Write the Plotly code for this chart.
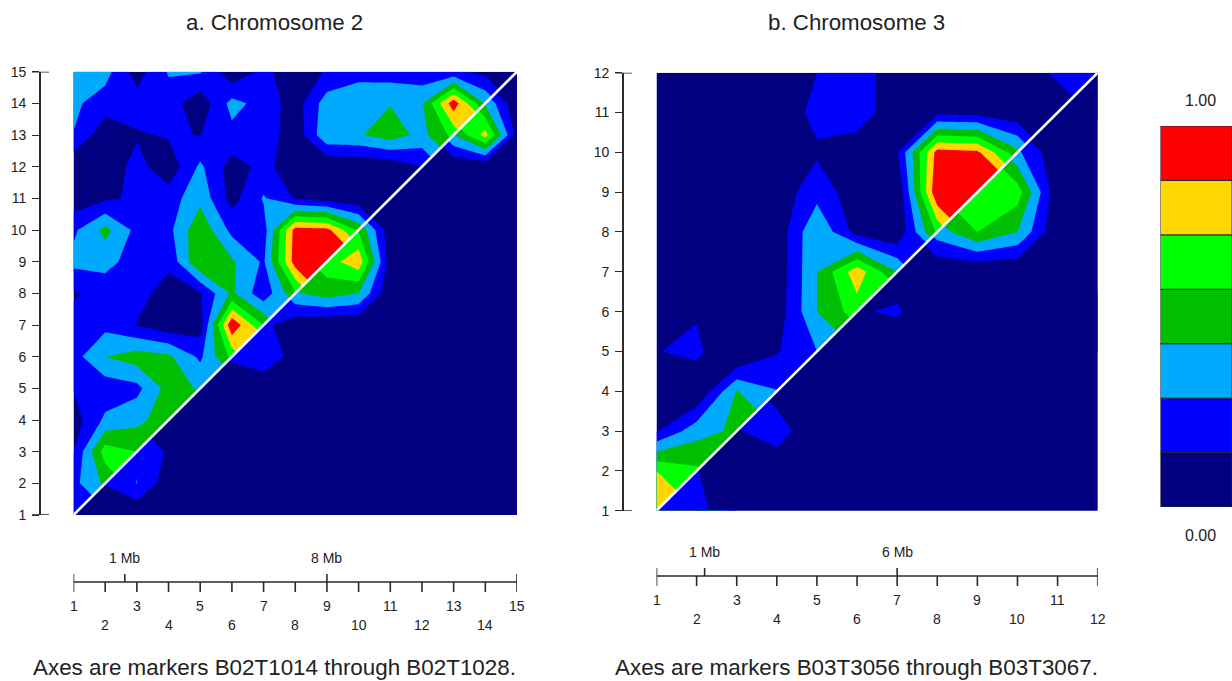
import plotly.graph_objects as go

W, H = 1232, 681
chr2_upper = [
    [1.3],
    [1.7, 3.2],
    [0.95, 4.5, 4.0],
    [0.5, 2.2, 2.7, 3.6],
    [1.05, 1.4, 1.7, 3.4, 2.9],
    [1.6, 3.0, 3.5, 3.2, 1.8, 4.3],
    [1.3, 1.7, 0.95, 0.3, 0.5, 6.8, 4.0],
    [0.9, 1.3, 1.35, 0.6, 0.9, 3.2, 1.3, 3.8],
    [2.3, 2.4, 1.45, 1.2, 4.02, 3.15, 1.85, 6.5, 6.6],
    [1.8, 3.3, 1.7, 1.7, 3.8, 1.7, 1.5, 6.4, 6.3, 3.8],
    [0.4, 0.8, 1.2, 1.5, 2.7, 0.6, 2.1, 0.9, 0.5, 0.2, 0.1],
    [0.1, 0.2, 1.4, 0.3, 2.2, 0.55, 1.3, 0.4, 0.1, 0.1, 0.3, 1.0],
    [1.97, 0.3, 0.88, 1.1, 0.97, 1.7, 1.7, 0.3, 2.8, 2.9, 3.5, 2.7, 4.3],
    [2.2, 1.5, 1.5, 1.5, 0.3, 2.35, 1.6, 0.5, 2.5, 2.6, 2.95, 2.9, 6.6, 2.9],
    [2.6, 2.4, 0.5, 2.1, 2.1, 0.2, 1.3, 0.3, 1.1, 1.7, 1.5, 1.3, 1.2, 0.7, 0.3],
]
chr2_lower = [
    [0.3, 0.2, 0.1, 0.1, 0.1, 0.1, 0.1, 0.1, 0.1, 0.1, 0.1, 0.1, 0.1, 0.1, 0.1],
    [1.05, 2.02, 0.4, 0.1, 0.1, 0.1, 0.1, 0.1, 0.1, 0.1, 0.1, 0.1, 0.1, 0.1],
    [1.9, 0.85, 0.1, 0.1, 0.1, 0.1, 0.1, 0.1, 0.1, 0.1, 0.1, 0.1, 0.1],
    [0.2, 0.1, 0.1, 0.1, 0.1, 0.1, 0.1, 0.1, 0.1, 0.1, 0.1, 0.1],
    [0.1, 0.1, 0.2, 0.1, 0.1, 0.1, 0.1, 0.1, 0.1, 0.1, 0.1],
    [1.2, 1.7, 0.6, 0.1, 0.1, 0.1, 0.1, 0.1, 0.1, 0.1],
    [1.3, 0.3, 0.1, 0.1, 0.1, 0.1, 0.1, 0.1, 0.1],
    [2.9, 3.5, 3.0, 0.2, 0.1, 0.1, 0.1, 0.1],
    [4.5, 5.7, 0.4, 0.1, 0.1, 0.1, 0.1],
    [3.9, 0.3, 0.1, 0.1, 0.1, 0.1],
    [0.1, 0.1, 0.1, 0.1, 0.1],
    [0.3, 0.1, 0.1, 0.1],
    [3.0, 5.4, 0.6],
    [2.9, 0.1],
    [0.5],
]
chr3_upper = [
    [5.7],
    [5.0, 4.2],
    [0.9, 2.6, 3.2],
    [0.1, 0.0, 3.05, 2.05],
    [0.95, 1.3, -0.4, 0.9, 2.0],
    [0.2, 0.87, 0.1, 0.4, 3.0, 4.5],
    [0.1, 0.1, 0.1, 0.3, 3.0, 5.6, 3.0],
    [0.1, 0.1, 0.1, 0.3, 2.95, 0.6, 0.1, 4.2],
    [0.1, 0.1, 0.1, 0.4, 1.6, 0.4, 0.0, 6.9, 6.8],
    [0.1, 0.1, 0.1, 0.1, 0.85, 0.35, 0.9, 6.4, 6.2, 3.3],
    [0.1, 0.1, 0.1, 0.3, 1.3, 1.6, 0.3, 0.7, 0.6, 0.2, 0.3],
    [0.1, 0.1, 0.1, 0.1, 1.0, 1.4, 0.55, 0.2, 0.2, 0.3, 1.2, 1.4],
]
chr3_lower = [
    [1.1, 1.4, 0.1, 0.1, 0.1, 0.1, 0.1, 0.1, 0.1, 0.1, 0.1, 0.1],
    [1.05, 0.1, 0.1, 0.1, 0.1, 0.1, 0.1, 0.1, 0.1, 0.1, 0.1],
    [0.9, 1.6, 0.0, 0.1, 0.1, 0.1, 0.1, 0.1, 0.1, 0.1],
    [0.5, 0.1, 0.1, 0.1, 0.1, 0.1, 0.1, 0.1, 0.1],
    [0.1, 0.1, 0.1, 0.1, 0.1, 0.1, 0.1, 0.1],
    [0.9, 1.15, 0.1, 0.1, 0.1, 0.1, 0.1],
    [0.4, 0.1, 0.0, 0.0, 0.1, 0.1],
    [2.5, 4.0, 3.0, 0.1, 0.1],
    [4.6, 4.5, 0.2, 0.1],
    [2.2, 0.2, 0.1],
    [0.2, 0.1],
    [0.3],
]
band_colors = ["#000080", "#0000FF", "#00AAFF", "#00BE00", "#00FF00", "#FFD700", "#FF0000"]
band_edges = [0, 1, 2, 3, 4, 5, 6, 7]
titles = ["a. Chromosome 2", "b. Chromosome 3"]
captions = ["Axes are markers B02T1014 through B02T1028.", "Axes are markers B03T3056 through B03T3067."]
mb_marks = [[(2.62, "1 Mb"), (9, "8 Mb")], [(2.2, "1 Mb"), (7, "6 Mb")]]
legend_labels = ["1.00", "0.00"]

FONT = "Liberation Sans"
INK = "#2a2a2a"


def full_from_upper(rows):
    n = len(rows)
    return [[(rows[j][i] if i <= j else rows[i][j]) / 7 for i in range(n)] for j in range(n)]


def full_from_lower(rows):
    n = len(rows)
    return [[(rows[j][i - j] if i >= j else rows[i][j - i]) / 7 for i in range(n)] for j in range(n)]


scale = []
for k, c in enumerate(band_colors):
    scale += [[k / 7, c], [(k + 1) / 7, c]]

fx = lambda px: px / W
fy = lambda py: 1 - py / H

fig = go.Figure()
panels = [
    dict(up=chr2_upper, lo=chr2_lower, x0=73.5, x1=517, y0=515, y1=71.7, axis_x=40, line_y=582, ax="x", ay="y", sx="", cx=274.5),
    dict(up=chr3_upper, lo=chr3_lower, x0=656.5, x1=1097.7, y0=510.7, y1=72.7, axis_x=623, line_y=576, ax="x2", ay="y2", sx="2", cx=856.5),
]
shapes, annotations = [], []


def text(x, y, s, size, xref="paper", anchor="center"):
    annotations.append(dict(x=x, y=fy(y), xref=xref, yref="paper", text=s, showarrow=False,
                            font=dict(family=FONT, size=size, color="#222222"),
                            xanchor=anchor, yanchor="middle"))


def seg(x0, y0, x1, y1, xref, yref):
    shapes.append(dict(type="line", x0=x0, y0=y0, x1=x1, y1=y1, xref=xref, yref=yref,
                       line=dict(color=INK, width=1.6)))


for p_i, p in enumerate(panels):
    n = len(p["up"])
    axis = list(range(1, n + 1))
    for z in (full_from_upper(p["up"]), full_from_lower(p["lo"])):
        fig.add_trace(go.Contour(x=axis, y=axis, z=z, xaxis=p["ax"], yaxis=p["ay"], zmin=0, zmax=1,
                                 autocontour=False, contours=dict(start=1 / 7, end=6 / 7, size=1 / 7, coloring="fill"),
                                 line=dict(width=0, smoothing=0), colorscale=scale, showscale=False, hoverinfo="skip"))
    fig.add_trace(go.Scatter(x=[1, n], y=[1, n], mode="lines", line=dict(color="white", width=2.6),
                             xaxis=p["ax"], yaxis=p["ay"], showlegend=False, hoverinfo="skip"))
    s = p["sx"]
    fig.layout["xaxis" + s] = dict(domain=[fx(p["x0"]), fx(p["x1"])], range=[1, n], visible=False, anchor="y" + s)
    fig.layout["yaxis" + s] = dict(domain=[fy(p["y0"]), fy(p["y1"])], range=[1, n], anchor="free",
                                   position=fx(p["axis_x"]), tickmode="array", tickvals=axis,
                                   ticks="outside", ticklen=7, tickwidth=1.4, tickcolor=INK, showgrid=False,
                                   zeroline=False, showline=True, linecolor=INK, linewidth=1.6,
                                   ticklabelstandoff=3,
                                   tickfont=dict(family=FONT, size=14, color="#222222"))
    for v in (1, n):
        seg(fx(p["axis_x"] - 8), v, fx(p["axis_x"] + 9), v, "paper", p["ay"])
    # marker scale under the plot
    ly = p["line_y"]
    xr = p["ax"]
    seg(1, fy(ly), n, fy(ly), xr, "paper")
    for v in axis:
        top = ly - 8 if v in (1, n) else ly
        seg(v, fy(top), v, fy(ly + 10), xr, "paper")
        text(v, ly + (24 if v % 2 else 43), str(v), 14, xref=xr)
    for v, label in mb_marks[p_i]:
        seg(v, fy(ly - 8), v, fy(ly), xr, "paper")
        text(v, ly - 24, label, 14, xref=xr)
    text(fx(p["cx"]), 22, titles[p_i], 22.3)
    text(fx(p["cx"]), 667.5, captions[p_i], 22.4)

# colour legend
for k, c in enumerate(band_colors):
    fig.add_trace(go.Bar(x=[0], y=[(band_edges[k + 1] - band_edges[k]) / 7], base=[band_edges[k] / 7],
                         width=[1], marker=dict(color=c, line=dict(color=INK, width=1)),
                         xaxis="x3", yaxis="y3", showlegend=False, hoverinfo="skip"))
fig.layout.xaxis3 = dict(domain=[fx(1160.5), 1.0], range=[-0.5, 0.5], visible=False, anchor="y3")
fig.layout.yaxis3 = dict(domain=[fy(507), fy(126)], range=[0, 1], visible=False, anchor="x3")
text(fx(1200.5), 100, legend_labels[0], 16)
text(fx(1200.5), 535, legend_labels[1], 16)

fig.update_layout(width=W, height=H, margin=dict(l=0, r=0, t=0, b=0, autoexpand=False), plot_bgcolor="white", paper_bgcolor="white",
                  barmode="overlay", shapes=shapes, annotations=annotations, showlegend=False)

post = """
document.body.style.margin='0';document.documentElement.style.overflow='hidden';
var gd=document.getElementById('{plot_id}');
var ns='http://www.w3.org/2000/svg';
var svg=gd.querySelector('.main-svg');
var defs=svg.querySelector('defs');
[['xy','xaxis','yaxis'],['x2y2','xaxis2','yaxis2']].forEach(function(s,k){
  var xa=gd._fullLayout[s[1]],ya=gd._fullLayout[s[2]];
  var g=gd.querySelectorAll('.subplot.'+s[0]+' .contourlayer g.contour')[1];
  var x0=xa.c2p(xa.range[0]),x1=xa.c2p(xa.range[1]),y0=ya.c2p(ya.range[0]),y1=ya.c2p(ya.range[1]);
  var cp=document.createElementNS(ns,'clipPath');cp.setAttribute('id','tri'+k);
  var pg=document.createElementNS(ns,'polygon');
  pg.setAttribute('points',[x0,y0,x1,y1,x1,y0].join(' '));
  cp.appendChild(pg);defs.appendChild(cp);
  g.setAttribute('clip-path','url(#tri'+k+')');
});
"""
fig.write_html("out.html", post_script=post, config={"displayModeBar": False})
